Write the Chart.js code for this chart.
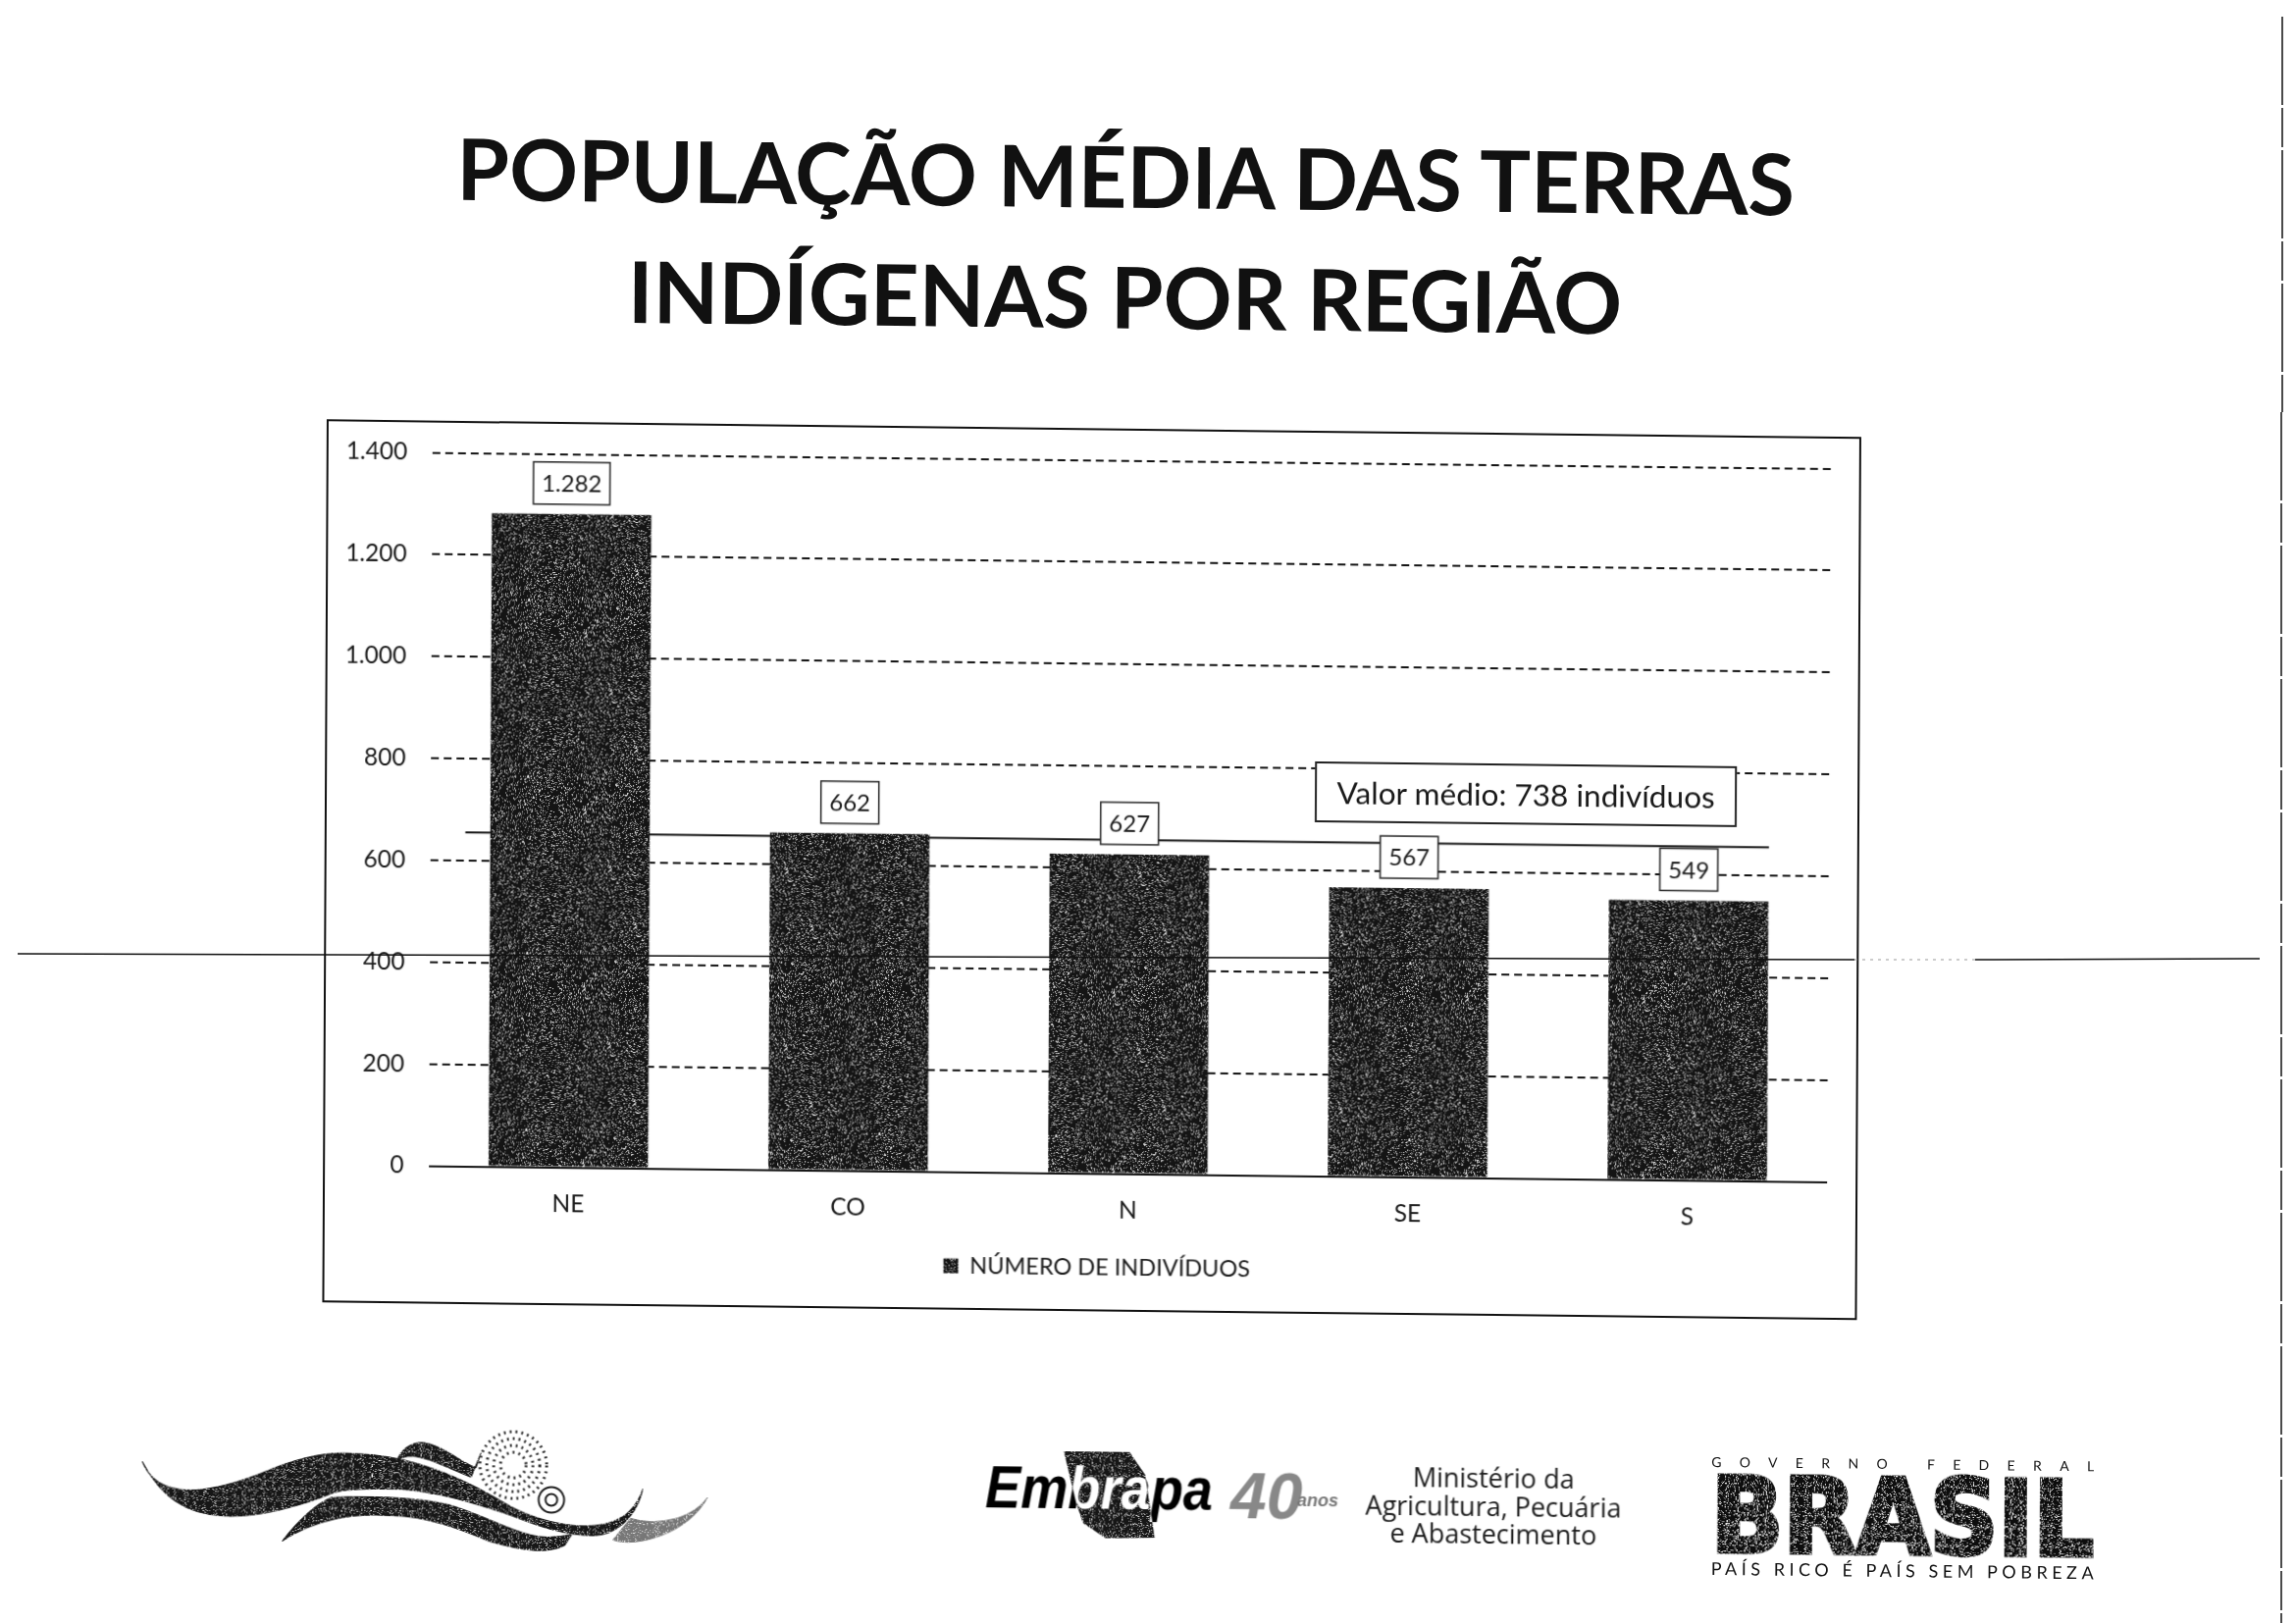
<!DOCTYPE html>
<html lang="pt-BR">
<head>
<meta charset="utf-8">
<title>População média das terras indígenas por região</title>
<script src="https://cdn.jsdelivr.net/npm/chart.js@4"></script>
<style>
html,body{margin:0;padding:0;background:#fff;width:2340px;height:1654px;overflow:hidden}
#page{position:absolute;left:0;top:0;width:2340px;height:1654px;transform:matrix(1,0.0115,-0.005,1,0,0);transform-origin:1170px 827px}
.title{position:absolute;left:0;width:2288px;text-align:center;font:bold 86.6px Lato,sans-serif;color:#111;line-height:110px;white-space:nowrap}
#frame{position:absolute;left:331px;top:437px;width:1564px;height:900px;box-sizing:border-box;border:2px solid #111;background:#fff}
#chart{position:absolute;left:331px;top:437px}
#note{position:absolute;left:1340px;top:774px;width:430px;height:62px;box-sizing:border-box;border:2px solid #222;background:#fff;font:31.6px Lato,sans-serif;color:#1a1a1a;line-height:58px;text-align:center;white-space:nowrap}
svg{position:absolute;left:0;top:0}
</style>
</head>
<body>
<div id="page">
  <div class="title" style="top:124px">POPULAÇÃO MÉDIA DAS TERRAS</div>
  <div class="title" style="top:247px">INDÍGENAS POR REGIÃO</div>
  <div id="frame"></div>
  <canvas id="chart" width="1564" height="900"></canvas>
  <div id="note">Valor médio: 738 indivíduos</div>
  <svg width="2340" height="1654" viewBox="0 0 2340 1654">
    <defs>
      <filter id="grain" x="0" y="0" width="100%" height="100%">
        <feTurbulence type="fractalNoise" baseFrequency="0.9" numOctaves="1" seed="4"/>
        <feColorMatrix values="0 0 0 0 1  0 0 0 0 1  0 0 0 0 1  0 0 0 7 -4.1"/>
        <feComposite in2="SourceGraphic" operator="in" result="n"/>
        <feMerge><feMergeNode in="SourceGraphic"/><feMergeNode in="n"/></feMerge>
      </filter>
      <clipPath id="emb"><path d="M1080 1480H1147L1163 1503L1173 1567L1123 1568L1100 1553L1093 1533Z"/></clipPath>
    </defs>
    <g transform="translate(3.5,8.5)">
      <g filter="url(#grain)" fill="#161616" stroke="#161616" stroke-linejoin="round">
        <path d="M145 1493C160 1530 205 1528 267 1503C300 1488 330 1480 359 1482C420 1483 470 1505 513 1530C545 1550 610 1565 639 1540C648 1532 652 1525 655 1515C650 1540 630 1563 604 1563C570 1563 540 1550 520 1543C480 1530 430 1515 387 1518C360 1518 345 1520 338 1523C310 1535 260 1550 225 1547C190 1545 165 1530 145 1493Z"/>
        <path d="M288 1572C305 1550 320 1535 338 1527C370 1525 420 1525 457 1533C490 1542 515 1557 541 1563C555 1566 570 1565 583 1562L576 1573C560 1582 535 1580 499 1570C470 1558 435 1545 400 1545C360 1542 320 1550 288 1572Z"/>
        <path d="M404 1490C408 1478 418 1470 430 1470C450 1472 470 1490 485 1495L490 1480L480 1505C455 1495 435 1485 420 1484C412 1484 407 1487 404 1490Z"/>
        <path fill="#777" stroke="#777" d="M625 1567C650 1575 700 1560 721 1523C705 1545 670 1553 643 1545Z"/>
      </g>
      <g fill="none" stroke="#222" stroke-width="2">
        <circle cx="562" cy="1527" r="13"/><circle cx="562" cy="1527" r="6"/>
      </g>
      <g fill="none" stroke="#333" stroke-width="3" stroke-dasharray="2 4">
        <circle cx="523" cy="1492" r="34"/><circle cx="523" cy="1492" r="27"/><circle cx="523" cy="1492" r="20"/><circle cx="523" cy="1492" r="13"/>
      </g>
    </g>
    <g transform="translate(7.5,0)">
      <path fill="#161616" filter="url(#grain)" d="M1080 1480H1147L1163 1503L1173 1567L1123 1568L1100 1553L1093 1533Z"/>
      <text x="1000" y="1538" font-family="'Liberation Sans',sans-serif" font-weight="bold" font-style="italic" font-size="62" textLength="232" lengthAdjust="spacingAndGlyphs" fill="#000">Embrapa</text>
      <text x="1000" y="1538" font-family="'Liberation Sans',sans-serif" font-weight="bold" font-style="italic" font-size="62" textLength="232" lengthAdjust="spacingAndGlyphs" fill="#fff" clip-path="url(#emb)">Embrapa</text>
      <text x="1250" y="1546" font-family="'Liberation Sans',sans-serif" font-weight="bold" font-style="italic" font-size="66" fill="#888">40</text>
      <text x="1318" y="1533" font-family="'Liberation Sans',sans-serif" font-weight="bold" font-style="italic" font-size="18" fill="#777">anos</text>
    </g>
    <g transform="translate(3.5,-4)" font-family="'Open Sans',sans-serif" font-size="27" fill="#1a1a1a" text-anchor="middle">
      <text x="1522" y="1516">Ministério da</text>
      <text x="1522" y="1545">Agricultura, Pecuária</text>
      <text x="1522" y="1573">e Abastecimento</text>
    </g>
    <g transform="translate(0.5,-8.7)" font-family="'DejaVu Sans',sans-serif" fill="#111">
      <text x="1747" y="1497" font-size="14" font-family="Lato,sans-serif" textLength="390">GOVERNO FEDERAL</text>
      <text x="1747" y="1583" font-size="106" font-weight="bold" stroke="#111" stroke-width="5" textLength="390" lengthAdjust="spacingAndGlyphs" filter="url(#grain)">BRASIL</text>
      <text x="1747" y="1607" font-size="18" font-family="Lato,sans-serif" textLength="390">PAÍS RICO É PAÍS SEM POBREZA</text>
    </g>
  </svg>
</div>
<svg width="2340" height="1654" viewBox="0 0 2340 1654">
  <path d="M18 972L1890 978M2013 978L2303 977" stroke="#111" stroke-width="1.5" fill="none"/>
  <path d="M1890 978L2013 978" stroke="#999" stroke-width="1" stroke-dasharray="3 5" fill="none"/>
  <path d="M2326 17V420M2325 420V1654" stroke="#111" stroke-width="1.5" stroke-dasharray="90 3 40 3" fill="none"/>
</svg>
<script>
const categories = ['NE', 'CO', 'N', 'SE', 'S'];
const populationValues = [1282, 662, 627, 567, 549];
const seriesLabel = 'NÚMERO DE INDIVÍDUOS';
const meanLineX = [0.126, 4.786];
const meanLineY = [655, 655];
const yAxisMax = 1400;
const yAxisStep = 200;

function formatPt(v){ return String(v).replace(/\B(?=(\d{3})+$)/g, '.'); }

function speckle(){
  const size = 180, c = document.createElement('canvas');
  c.width = c.height = size;
  const g = c.getContext('2d');
  g.fillStyle = '#141414'; g.fillRect(0,0,size,size);
  let s = 12345;
  for (let y=0;y<size;y++) for (let x=0;x<size;x++){
    s = (s*1103515245 + 12345) & 0x7fffffff;
    const r = (s>>>8) % 100;
    if (r < 20){ g.fillStyle = r < 7 ? '#e8e8e8' : '#8a8a8a'; g.fillRect(x,y,1,1); }
  }
  return g.createPattern(c,'repeat');
}
const barFill = speckle();

const valueBoxes = {
  id:'valueBoxes',
  afterLayout(chart){ chart.legend.left = 45; },
  afterDatasetsDraw(chart){
    const ctx = chart.ctx, meta = chart.getDatasetMeta(0);
    ctx.save();
    ctx.font = '24px Lato, sans-serif';
    ctx.textAlign = 'center'; ctx.textBaseline = 'middle';
    meta.data.forEach((el,i)=>{
      const t = formatPt(populationValues[i]);
      const w = t.length > 3 ? 78 : 59, h = 43, bottom = el.y - 10;
      ctx.fillStyle = '#fff'; ctx.fillRect(el.x-w/2, bottom-h, w, h);
      ctx.strokeStyle = '#222'; ctx.lineWidth = 1.5; ctx.strokeRect(el.x-w/2, bottom-h, w, h);
      ctx.fillStyle = '#1a1a1a'; ctx.fillText(t, el.x, bottom-h/2+1);
    });
    ctx.restore();
  }
};

new Chart(document.getElementById('chart'), {
  type:'bar',
  data:{
    labels:categories,
    datasets:[
      {label:seriesLabel, data:populationValues, backgroundColor:barFill, categoryPercentage:1, barPercentage:0.57, grouped:false, order:1},
      {type:'scatter', label:'Valor médio', showLine:true, xAxisID:'x2', yAxisID:'y',
       data:meanLineX.map((x,i)=>({x, y:meanLineY[i]})), borderColor:'#111', borderWidth:2, pointRadius:0, order:2}
    ]
  },
  options:{
    responsive:false, animation:false, devicePixelRatio:1,
    layout:{autoPadding:false,padding:{left:0,right:31,top:32.5,bottom:23}},
    plugins:{
      tooltip:{enabled:false},
      title:{display:false},
      legend:{position:'bottom',
        labels:{boxWidth:15,boxHeight:15,padding:10,color:'#1a1a1a',font:{family:'Lato, sans-serif',size:23.5},
          filter:(item)=>item.datasetIndex===0}}
    },
    scales:{
      x:{
        grid:{display:false},
        border:{display:false},
        ticks:{color:'#1a1a1a',font:{family:'Lato, sans-serif',size:24.5},padding:15},
        afterFit(s){s.height=74;}
      },
      x2:{type:'linear',display:false,min:0,max:categories.length,offset:false},
      y:{
        min:0,max:yAxisMax,
        ticks:{stepSize:yAxisStep,color:'#1a1a1a',padding:25,font:{family:'Lato, sans-serif',size:24.5},callback:v=>formatPt(v)},
        grid:{color:'#111',lineWidth:2,drawTicks:false},
        border:{display:false,dash:(c)=>c.tick && c.tick.value===0?[]:[8,5]},
        afterFit(s){s.width=107.5;s.paddingTop=0;s.paddingBottom=0;}
      }
    }
  },
  plugins:[valueBoxes]
});
</script>
</body>
</html>
